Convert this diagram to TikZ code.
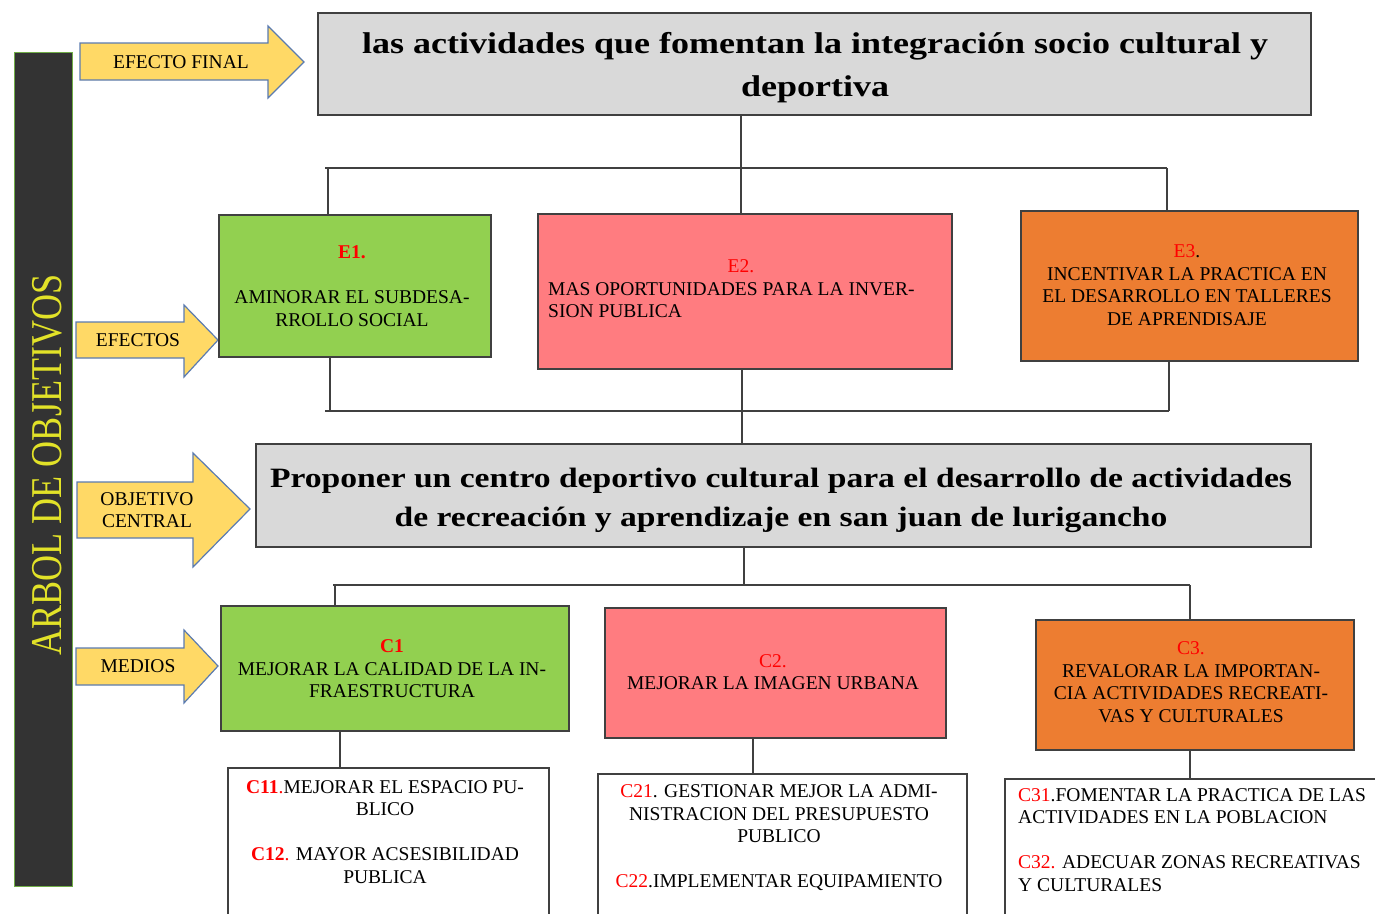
\documentclass[tikz,border=0pt]{standalone}
\usepackage{fontspec}
\setmainfont{Liberation Serif}
\newfontfamily\widefont[FakeStretch=1.2]{Liberation Serif}
\newfontfamily\tallfont[FakeStretch=0.82]{Liberation Serif}
\definecolor{barfill}{HTML}{333333}
\definecolor{barline}{HTML}{70AD47}
\definecolor{bartext}{RGB}{226,226,40}
\definecolor{arrowfill}{HTML}{FFD966}
\definecolor{arrowline}{HTML}{5B7BB0}
\definecolor{grayfill}{HTML}{D9D9D9}
\definecolor{boxline}{HTML}{404040}
\definecolor{greenfill}{HTML}{92D050}
\definecolor{pinkfill}{HTML}{FF7C80}
\definecolor{orangefill}{HTML}{ED7D31}
\definecolor{labred}{HTML}{FF0000}
\tikzset{
  box/.style={draw=boxline, line width=1.8pt, inner sep=0pt, anchor=north west},
  conn/.style={draw=boxline, line width=1.8pt},
  arrowshape/.style={fill=arrowfill, draw=arrowline, line width=1.2pt, line join=miter},
  lbl/.style={font=\fontsize{19.5}{22}\selectfont, align=center, inner sep=0pt},
  txt/.style={font=\fontsize{19.5}{22.5}\selectfont, align=center, inner sep=0pt},
  txtl/.style={font=\fontsize{19.5}{22.5}\selectfont, align=left, inner sep=0pt, anchor=west},
  title/.style={font=\widefont\bfseries\fontsize{30}{43}\selectfont, align=center, inner sep=0pt},
}
\newcommand{\rl}[1]{\textcolor{labred}{#1}}
\begin{document}
\begin{tikzpicture}[x=1pt,y=-1pt]
\useasboundingbox (0,0) rectangle (1375,913);
\clip (0,0) rectangle (1375,913);
\fill[white] (0,0) rectangle (1375,913);

% left bar
\node[draw=barline, fill=barfill, line width=1.2pt, minimum width=58pt, minimum height=834pt, inner sep=0pt, anchor=north west] (bar) at (14,52) {};
\node[rotate=90, text=bartext, font=\tallfont\fontsize{44}{48}\selectfont, inner sep=0pt] (bartxt) at (47,465) {ARBOL DE OBJETIVOS};

% arrows
\draw[arrowshape] (80,43) -- (268,43) -- (268,26) -- (304,62) -- (268,98) -- (268,80) -- (80,80) -- cycle;
\node[lbl] (aef) at (181,62) {EFECTO FINAL};
\draw[arrowshape] (76,322) -- (184,322) -- (184,305) -- (218,340) -- (184,377) -- (184,358) -- (76,358) -- cycle;
\node[lbl] (aefs) at (138,340) {EFECTOS};
\draw[arrowshape] (77,482) -- (193,482) -- (193,453) -- (250,509) -- (193,567) -- (193,538) -- (77,538) -- cycle;
\node[lbl] (aoc) at (147,510) {OBJETIVO\\CENTRAL};
\draw[arrowshape] (76,648) -- (184,648) -- (184,630) -- (218,666) -- (184,703) -- (184,685) -- (76,685) -- cycle;
\node[lbl] (amed) at (138,666) {MEDIOS};

% boxes
\node[box, fill=grayfill, minimum width=993pt, minimum height=102pt] (top) at (317,12) {};
\node[title] (toptxt) at (815,68) {las actividades que fomentan la integración socio cultural y\\deportiva};

\node[box, fill=greenfill, minimum width=272pt, minimum height=142pt] (e1) at (218,214) {};
\node[box, fill=pinkfill, minimum width=414pt, minimum height=155pt] (e2) at (537,213) {};
\node[box, fill=orangefill, minimum width=337pt, minimum height=150pt] (e3) at (1020,210) {};

\node[box, fill=grayfill, minimum width=1055pt, minimum height=103pt] (cen) at (255,443) {};
\node[title, font=\widefont\bfseries\fontsize{28}{39}\selectfont] (centxt) at (781,500) {Proponer un centro deportivo cultural para el desarrollo de actividades\\de recreación y aprendizaje en san juan de lurigancho};

\node[box, fill=greenfill, minimum width=348pt, minimum height=125pt] (c1) at (220,605) {};
\node[box, fill=pinkfill, minimum width=341pt, minimum height=130pt] (c2) at (604,607) {};
\node[box, fill=orangefill, minimum width=318pt, minimum height=130pt] (c3) at (1035,619) {};

\node[box, fill=white, minimum width=321pt, minimum height=170pt] (c11) at (227,767) {};
\node[box, fill=white, minimum width=369pt, minimum height=170pt] (c21) at (597,773) {};
\node[box, fill=white, minimum width=390pt, minimum height=170pt] (c31) at (1004,778) {};

% texts in boxes
\node[txt] (e1t) at (352,286) {\rl{\textbf{E1.}}\\[22.5pt]AMINORAR EL SUBDESA-\\RROLLO SOCIAL};
\node[txt] (e2lab) at (741,266) {\rl{E2.}};
\node[txtl] (e2t) at (548,300) {MAS OPORTUNIDADES PARA LA INVER-\\SION PUBLICA};
\node[txt] (e3t) at (1187,285) {\rl{E3}.\\INCENTIVAR LA PRACTICA EN\\EL DESARROLLO EN TALLERES\\DE APRENDISAJE};
\node[txt] (c1t) at (392,669) {\rl{\textbf{C1}}\\MEJORAR LA CALIDAD DE LA IN-\\FRAESTRUCTURA};
\node[txt] (c2t) at (773,672) {\rl{C2.}\\MEJORAR LA IMAGEN URBANA};
\node[txt] (c3t) at (1191,682) {\rl{C3.}\\REVALORAR LA IMPORTAN-\\CIA ACTIVIDADES RECREATI-\\VAS Y CULTURALES};
\node[txt] (c11t) at (385,832) {\rl{\textbf{C11}.}MEJORAR EL ESPACIO PU-\\BLICO\\[22.5pt]\rl{\textbf{C12}.} MAYOR ACSESIBILIDAD\\PUBLICA};
\node[txt] (c21t) at (779,838) {\rl{C21}. GESTIONAR MEJOR LA ADMI-\\NISTRACION DEL PRESUPUESTO\\PUBLICO\\[22.5pt]\rl{C22}.IMPLEMENTAR EQUIPAMIENTO};
\node[txtl] (c31t) at (1018,840) {\rl{C31}.FOMENTAR LA PRACTICA DE LAS\\ACTIVIDADES EN LA POBLACION\\[22.5pt]\rl{C32.} ADECUAR ZONAS RECREATIVAS\\Y CULTURALES};

% connectors top
\coordinate (tb) at (741,114);
\coordinate (hl1) at (325,168);
\coordinate (hr1) at (1167,168);
\coordinate (e1a) at (328,214);
\coordinate (e3a) at (1167,210);
\draw[conn] (tb) -- (tb |- e2.north);
\draw[conn] (hl1) -- (hr1);
\draw[conn] (e1a |- hl1) -- (e1a);
\draw[conn] (hr1) -- (e3a);
% connectors middle
\coordinate (hl2) at (325,411);
\coordinate (hr2) at (1169,411);
\coordinate (e1b) at (330,356);
\coordinate (e3b) at (1169,360);
\coordinate (e2b) at (742,368);
\draw[conn] (hl2) -- (hr2);
\draw[conn] (e1b) -- (e1b |- hl2);
\draw[conn] (e3b) -- (hr2);
\draw[conn] (e2b) -- (e2b |- cen.north);
% connectors lower
\coordinate (hl3) at (333,585);
\coordinate (hr3) at (1190,585);
\coordinate (cenb) at (744,546);
\coordinate (c1a) at (335,605);
\draw[conn] (cenb) -- (cenb |- hl3);
\draw[conn] (hl3) -- (hr3);
\draw[conn] (c1a |- hl3) -- (c1a);
\draw[conn] (hr3) -- (hr3 |- c3.north);
% to lower boxes
\coordinate (c1b) at (340,730);
\coordinate (c2b) at (753,737);
\coordinate (c3b) at (1190,749);
\draw[conn] (c1b) -- (c1b |- c11.north);
\draw[conn] (c2b) -- (c2b |- c21.north);
\draw[conn] (c3b) -- (c3b |- c31.north);
\end{tikzpicture}
\end{document}
